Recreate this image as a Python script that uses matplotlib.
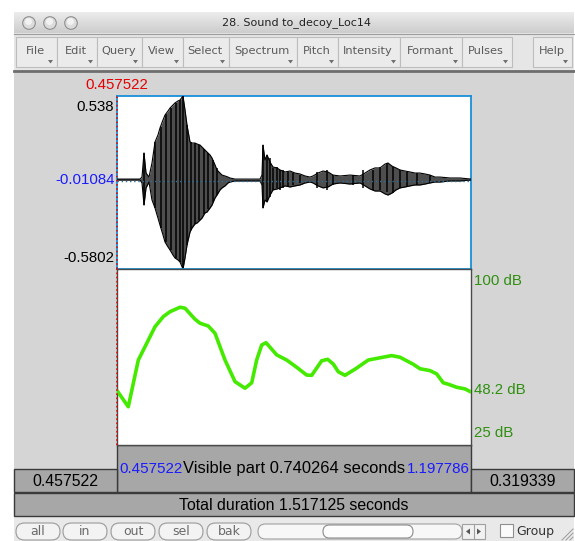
import matplotlib
matplotlib.use('Agg')
import matplotlib.pyplot as plt
from matplotlib.patches import Rectangle, FancyBboxPatch, Circle, Polygon
import numpy as np

W, H = 575, 541
DPI = 100

# ---------------- data ----------------
title = "28. Sound to_decoy_Loc14"
menu_labels = ['File', 'Edit', 'Query', 'View', 'Select', 'Spectrum', 'Pitch',
               'Intensity', 'Formant', 'Pulses', 'Help']
button_labels = ['all', 'in', 'out', 'sel', 'bak']

t_start = 0.457522
t_end = 1.197786
visible = 0.740264
total = 1.517125
right_remain = 0.319339
amp_max = 0.538
amp_min = -0.5802
cursor_amp = -0.01084
db_top = 100
db_bot = 25
db_cursor = 48.2

wave_t = [0.4575, 0.5056, 0.5098, 0.5140, 0.5182, 0.5244, 0.5307, 0.5370, 0.5432, 0.5474,
          0.5537, 0.5579, 0.5642, 0.5683, 0.5746, 0.5788, 0.5851, 0.5893, 0.5955, 0.5997,
          0.6039, 0.6102, 0.6144, 0.6206, 0.6248, 0.6311, 0.6353, 0.6415, 0.6457, 0.6520,
          0.6562, 0.6625, 0.6666, 0.6729, 0.6771, 0.6834, 0.6896, 0.6938, 0.7043, 0.7566,
          0.7607, 0.7628, 0.7670, 0.7712, 0.7775, 0.7837, 0.7921, 0.7984, 0.8088, 0.8193,
          0.8297, 0.8402, 0.8507, 0.8611, 0.8674, 0.8778, 0.8883, 0.8987, 0.9092, 0.9238,
          0.9448, 0.9657, 0.9761, 0.9866, 0.9970, 1.0075, 1.0179, 1.0242, 1.0326, 1.0409,
          1.0493, 1.0598, 1.0702, 1.0807, 1.0911, 1.1016, 1.1120, 1.1225, 1.1329, 1.1539,
          1.1748, 1.1978]
wave_hi = [0.001, 0.001, 0.014, 0.170, 0.040, 0.014, 0.105, 0.241, 0.286, 0.331,
           0.383, 0.415, 0.441, 0.460, 0.480, 0.493, 0.506, 0.512, 0.538, 0.448,
           0.350, 0.241, 0.234, 0.234, 0.228, 0.221, 0.208, 0.189, 0.176, 0.157,
           0.137, 0.092, 0.060, 0.040, 0.027, 0.021, 0.014, 0.008, 0.001, 0.001,
           0.027, 0.221, 0.124, 0.157, 0.111, 0.079, 0.073, 0.060, 0.047, 0.053,
           0.040, 0.034, 0.021, 0.014, 0.021, 0.040, 0.053, 0.047, 0.027, 0.021,
           0.027, 0.021, 0.040, 0.060, 0.073, 0.073, 0.098, 0.105, 0.085, 0.073,
           0.060, 0.053, 0.047, 0.040, 0.040, 0.034, 0.027, 0.014, 0.014, 0.008,
           0.008, 0.001]
wave_lo = [-0.005, -0.005, -0.024, -0.167, -0.056, -0.018, -0.134, -0.186, -0.251, -0.296,
           -0.360, -0.406, -0.438, -0.457, -0.490, -0.509, -0.522, -0.535, -0.580, -0.509,
           -0.425, -0.341, -0.315, -0.289, -0.283, -0.264, -0.251, -0.218, -0.212, -0.186,
           -0.167, -0.121, -0.102, -0.069, -0.056, -0.043, -0.024, -0.018, -0.011, -0.011,
           -0.037, -0.186, -0.134, -0.147, -0.102, -0.069, -0.063, -0.056, -0.043, -0.050,
           -0.043, -0.037, -0.024, -0.018, -0.024, -0.043, -0.056, -0.050, -0.031, -0.024,
           -0.031, -0.024, -0.043, -0.063, -0.076, -0.076, -0.095, -0.102, -0.089, -0.069,
           -0.056, -0.050, -0.043, -0.037, -0.037, -0.031, -0.024, -0.018, -0.018, -0.011,
           -0.011, -0.005]

pulse_t = [0.5140, 0.5370, 0.5495, 0.5600, 0.5704, 0.5809, 0.5893, 0.5955, 0.6039, 0.6123,
           0.6206, 0.6290, 0.6394, 0.6478, 0.6582, 0.6666, 0.7628, 0.7712,
           0.7775, 0.7844, 0.7915, 0.7984, 0.8053, 0.8158, 0.8262, 0.8402, 0.8751, 0.8960,
           0.9098, 0.9517, 0.9726, 0.9935, 1.0075, 1.0215, 1.0353, 1.0493, 1.0633, 1.0842,
           1.1120]
pulse_hi = [0.170, 0.241, 0.338, 0.422, 0.460, 0.493, 0.512, 0.538, 0.350, 0.241,
            0.234, 0.221, 0.195, 0.170, 0.124, 0.073, 0.221, 0.157,
            0.135, 0.071, 0.081, 0.060, 0.060, 0.049, 0.038, 0.027, 0.049, 0.060,
            0.027, 0.027, 0.060, 0.060, 0.081, 0.103, 0.081, 0.060, 0.049, 0.038,
            0.027]
pulse_lo = [-0.167, -0.186, -0.315, -0.406, -0.457, -0.509, -0.535, -0.580, -0.425, -0.328,
            -0.289, -0.264, -0.225, -0.192, -0.147, -0.102, -0.186, -0.147,
            -0.113, -0.070, -0.059, -0.070, -0.059, -0.048, -0.037, -0.026, -0.059, -0.070,
            -0.037, -0.037, -0.059, -0.070, -0.070, -0.081, -0.091, -0.059, -0.048, -0.037,
            -0.026]

int_t = [0.4575, 0.4811, 0.5021, 0.5196, 0.5370, 0.5543, 0.5683, 0.5893, 0.5997, 0.6206,
         0.6311, 0.6484, 0.6625, 0.6834, 0.7043, 0.7252, 0.7392, 0.7496, 0.7601, 0.7691,
         0.7915, 0.8124, 0.8333, 0.8542, 0.8647, 0.8856, 0.8981, 0.9098, 0.9203, 0.9343,
         0.9552, 0.9830, 1.0006, 1.0319, 1.0493, 1.0771, 1.0911, 1.1120, 1.1260, 1.1398,
         1.1503, 1.1679, 1.1852, 1.1978]
int_db = [48.2, 41.3, 61.2, 68.3, 75.4, 79.7, 81.8, 83.7, 83.3, 78.6,
          76.9, 75.7, 72.6, 61.2, 52.0, 49.2, 51.5, 61.2, 67.6, 68.6,
          63.4, 61.2, 58.1, 54.8, 54.7, 60.9, 61.5, 59.5, 56.2, 54.7,
          57.3, 61.2, 61.9, 63.1, 62.4, 59.4, 57.5, 56.7, 55.3, 51.5,
          50.9, 49.6, 48.9, 47.6]

# ---------------- layout helpers (pixels) ----------------
UI = 'DejaVu Sans'
PR = 'Liberation Sans'

fig = plt.figure(figsize=(W / DPI, H / DPI), dpi=DPI)
fig.patch.set_facecolor('white')
bg = fig.add_axes([0, 0, 1, 1], zorder=0)
bg.set_xlim(0, W)
bg.set_ylim(H, 0)
bg.axis('off')


def px_axes(x0, y0, x1, y1, z=2):
    return fig.add_axes([x0 / W, 1 - y1 / H, (x1 - x0) / W, (y1 - y0) / H], zorder=z)


WL, WR = 14, 574
# window body
bg.add_patch(Rectangle((WL, 12), WR - WL, H - 12, facecolor='#d5d5d5', edgecolor='none'))
# title bar gradient
grad = np.linspace(0, 1, 40).reshape(-1, 1)
bg.imshow(grad, extent=(WL, WR, 33, 12), cmap=matplotlib.colors.LinearSegmentedColormap.from_list(
    'tb', ['#ececec', '#cdcdcd']), aspect='auto', zorder=1)
bg.add_patch(Rectangle((WL, 33), WR - WL, 37, facecolor='#e6e6e6', edgecolor='none', zorder=1))
bg.plot([WL, WR], [33.5, 33.5], color='#9c9c9c', lw=0.8, zorder=2)
bg.plot([WL, WR], [71, 71], color='#6e6e6e', lw=2.0, zorder=2)
bg.text((WL + WR) / 2 + 2, 23, title, ha='center', va='center', fontsize=8.0,
        family=UI, color='#222222', zorder=3)
for cx in (29, 50, 71):
    bg.add_patch(Circle((cx, 23), 6.3, facecolor='#dcdcdc', edgecolor='#8f8f8f', lw=0.8, zorder=3))
    bg.add_patch(Circle((cx - 0.5, 21.5), 3.5, facecolor='#f2f2f2', edgecolor='none', zorder=3))

# menu buttons
menu_edges = [(16, 57), (57, 97), (97, 142), (142, 183), (183, 229), (229, 297), (297, 338),
              (338, 400), (400, 462), (462, 512), (533, 572)]
for lab, (a, b) in zip(menu_labels, menu_edges):
    bg.add_patch(Rectangle((a, 37), b - a, 30, facecolor='#ebebeb', edgecolor='#bdbdbd',
                           lw=0.8, zorder=2))
    bg.text((a + b) / 2 - 1, 51.5, lab, ha='center', va='center', fontsize=8.2,
            family=UI, color='#5a5a5a', zorder=3)
    bg.add_patch(Polygon([(b - 9, 60), (b - 4, 60), (b - 6.5, 63.5)], closed=True,
                         facecolor='#707070', edgecolor='none', zorder=3))

# panels positions
X0, X1 = 117, 471
WY0, WY1 = 96, 269
IY0, IY1 = 269, 445

# cursor time label
bg.text(X0, 85, f"{t_start:.6f}", ha='center', va='center', fontsize=10.8, family=PR,
        color='#e60000', zorder=3)
# amplitude labels
bg.text(114, 107, f"{amp_max:g}", ha='right', va='center', fontsize=10.8, family=PR,
        color='black', zorder=3)
bg.text(114, 257.5, f"{amp_min:g}", ha='right', va='center', fontsize=10.8, family=PR,
        color='black', zorder=3)
bg.text(115, 180.5, f"{cursor_amp:g}", ha='right', va='center', fontsize=10.8, family=PR,
        color='#1a1aff', zorder=3)
# intensity labels
bg.text(474, 281, f"{db_top:g} dB", ha='left', va='center', fontsize=10.8, family=PR,
        color='#2f8f10', zorder=3)
bg.text(474, 390, f"{db_cursor:g} dB", ha='left', va='center', fontsize=10.8, family=PR,
        color='#2f8f10', zorder=3)
bg.text(474, 433, f"{db_bot:g} dB", ha='left', va='center', fontsize=10.8, family=PR,
        color='#2f8f10', zorder=3)

# ---------------- waveform ----------------
axw = px_axes(X0, WY0, X1, WY1)
axw.set_xlim(t_start, t_end)
axw.set_ylim(amp_min, amp_max)
axw.set_facecolor('white')
axw.fill_between(wave_t, wave_lo, wave_hi, color='#4e4e4e', lw=0, zorder=2)
axw.plot(wave_t, wave_hi, color='black', lw=0.8, zorder=3)
axw.plot(wave_t, wave_lo, color='black', lw=0.8, zorder=3)
axw.vlines(pulse_t, pulse_lo, pulse_hi, color='black', lw=1.1, zorder=3)
axw.axhline(cursor_amp, color='#2f6f96', lw=1.0, ls=(0, (1, 2)), zorder=4)
axw.set_xticks([])
axw.set_yticks([])
for s in axw.spines.values():
    s.set_color('#1890d8')
    s.set_linewidth(1.3)

# ---------------- intensity ----------------
axi = px_axes(X0, IY0, X1, IY1)
axi.set_xlim(t_start, t_end)
axi.set_ylim(db_bot, db_top)
axi.set_facecolor('white')
axi.plot(int_t, int_db, color='#44ea00', lw=2.6, solid_joinstyle='round',
         solid_capstyle='round', zorder=3)
axi.set_xticks([])
axi.set_yticks([])
for s in axi.spines.values():
    s.set_color('#4a4a4a')
    s.set_linewidth(1.0)
axw.spines['bottom'].set_zorder(5)

# cursor line (red dotted) across both panels
for ax in (axw, axi):
    ax.axvline(t_start, color='#d01010', lw=1.2, ls=(0, (1, 1.5)), zorder=6, clip_on=False)

# ---------------- bars ----------------
BAR = '#a7a7a7'
EDGE = '#3a3a3a'
bg.add_patch(Rectangle((X0, 445), X1 - X0, 47, facecolor=BAR, edgecolor=EDGE, lw=1.0, zorder=2))
bg.add_patch(Rectangle((WL, 469), X0 - WL, 23, facecolor=BAR, edgecolor=EDGE, lw=1.0, zorder=2))
bg.add_patch(Rectangle((X1, 469), WR - X1, 23, facecolor=BAR, edgecolor=EDGE, lw=1.0, zorder=2))
bg.add_patch(Rectangle((WL, 493), WR - WL, 23, facecolor=BAR, edgecolor=EDGE, lw=1.0, zorder=2))
bg.add_patch(Rectangle((WL, 516.5), WR - WL, H - 516.5, facecolor='#e9e9e9', edgecolor='none',
                       zorder=1))

bg.text(X0 + 2, 469, f"{t_start:.6f}", ha='left', va='center', fontsize=10.9, family=PR,
        color='#1a1aff', zorder=3)
bg.text(X1 - 1, 469, f"{t_end:.6f}", ha='right', va='center', fontsize=10.9, family=PR,
        color='#1a1aff', zorder=3)
bg.text((X0 + X1) / 2, 469, f"Visible part {visible:.6f} seconds", ha='center',
        va='center', fontsize=11.9, family=PR, color='black', zorder=3)
bg.text((WL + X0) / 2, 481.5, f"{t_start:.6f}", ha='center', va='center', fontsize=11.4,
        family=PR, color='black', zorder=3)
bg.text((X1 + WR) / 2, 481.5, f"{right_remain:.6f}", ha='center', va='center', fontsize=11.4,
        family=PR, color='black', zorder=3)
bg.text((WL + WR) / 2, 505, f"Total duration {total:.6f} seconds", ha='center', va='center',
        fontsize=11.4, family=PR, color='black', zorder=3)

# ---------------- bottom buttons ----------------
bx = [(16, 60), (63, 107), (111, 155), (159, 203), (207, 251)]
for lab, (a, b) in zip(button_labels, bx):
    bg.add_patch(FancyBboxPatch((a, 523), b - a, 17, boxstyle='round,pad=0,rounding_size=8.5',
                                facecolor='#f3f3f3', edgecolor='#9a9a9a', lw=0.8, zorder=2))
    bg.text((a + b) / 2, 531.5, lab, ha='center', va='center', fontsize=9.0, family=UI,
            color='#6a6a6a', zorder=3)
# scrollbar
bg.add_patch(FancyBboxPatch((258, 524), 204, 15, boxstyle='round,pad=0,rounding_size=7.5',
                            facecolor='#f7f7f7', edgecolor='#a0a0a0', lw=0.8, zorder=2))
bg.add_patch(FancyBboxPatch((323, 525), 90, 13, boxstyle='round,pad=0,rounding_size=6.5',
                            facecolor='#fdfdfd', edgecolor='#8c8c8c', lw=0.8, zorder=3))
bg.add_patch(Rectangle((462, 524), 23, 15, facecolor='#f1f1f1', edgecolor='#a0a0a0', lw=0.8,
                       zorder=2))
bg.plot([473.5, 473.5], [524, 539], color='#a0a0a0', lw=0.8, zorder=3)
bg.add_patch(Polygon([(470, 528.5), (470, 534.5), (466, 531.5)], closed=True,
                     facecolor='#555555', edgecolor='none', zorder=3))
bg.add_patch(Polygon([(477, 528.5), (477, 534.5), (481, 531.5)], closed=True,
                     facecolor='#555555', edgecolor='none', zorder=3))
# group checkbox
bg.add_patch(Rectangle((500, 524), 13, 13, facecolor='#fbfbfb', edgecolor='#8f8f8f', lw=0.8,
                       zorder=2))
bg.text(516, 531, "Group", ha='left', va='center', fontsize=9.0, family=UI, color='#333333',
        zorder=3)
# resize grip
for d in (4, 8, 12):
    bg.plot([WR - d, WR - 1], [H - 1, H - d], color='#9a9a9a', lw=0.7, zorder=3)

fig.savefig('out.png', dpi=DPI)
